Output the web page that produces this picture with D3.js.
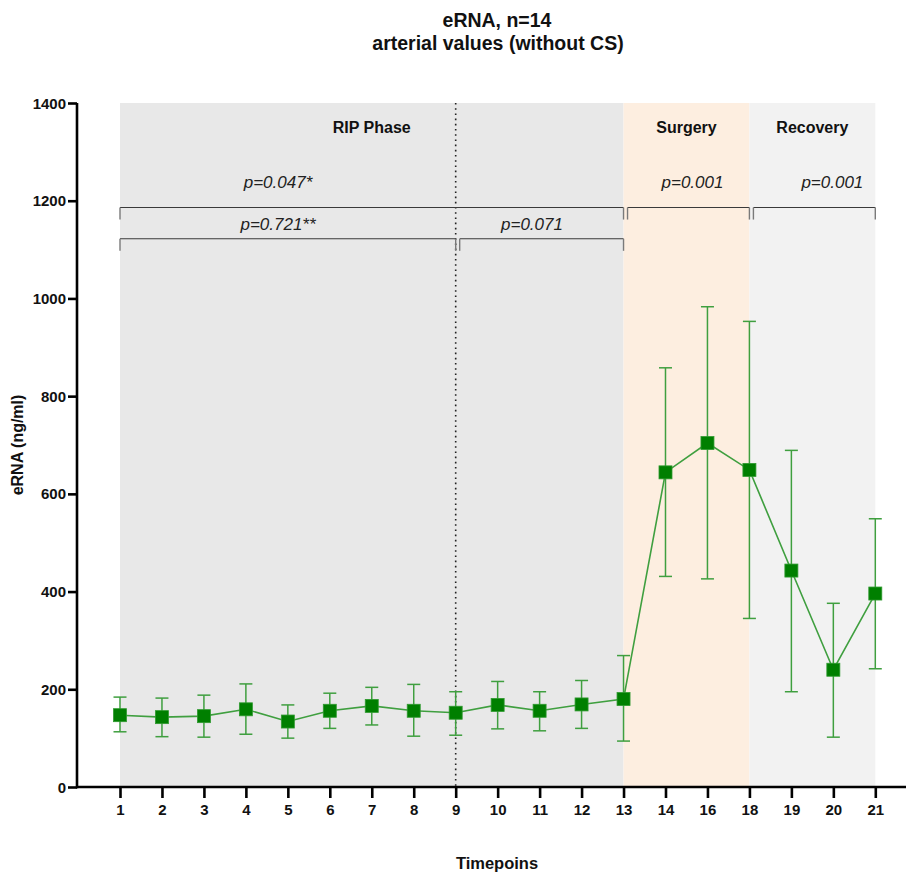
<!DOCTYPE html>
<html>
<head>
<meta charset="utf-8">
<script src="https://cdn.jsdelivr.net/npm/d3@7"></script>
<style>
  body { margin: 0; background: #fff; }
  svg { font-family: "Liberation Sans", Arial, sans-serif; }
</style>
</head>
<body>
<div id="chart"></div>
<script>
// timepoints (x categories)
const timepoints = ['1', '2', '3', '4', '5', '6', '7', '8', '9', '10', '11', '12', '13', '14', '16', '18', '19', '20', '21'];
// mean eRNA (ng/ml)
const means = [147, 143, 145, 159, 134, 156, 166, 156, 152, 168, 156, 169, 180, 644, 704, 649, 443, 240, 396];
// error bar upper / lower ends
const upper = [184, 182, 188, 211, 168, 192, 204, 210, 195, 216, 195, 218, 269, 858, 983, 953, 689, 376, 549];
const lower = [113, 103, 102, 108, 100, 120, 127, 104, 106, 119, 115, 120, 94, 431, 426, 345, 195, 102, 242];
const yTicks = [0, 200, 400, 600, 800, 1000, 1200, 1400];

const phases = [
    { name: 'RIP Phase', from: '1', to: '13' },
    { name: 'Surgery', from: '13', to: '18' },
    { name: 'Recovery', from: '18', to: '21' }
];
const brackets = [
    { from: '1', to: '13', level: 0, label: 'p=0.047*' },
    { from: '13', to: '18', level: 0, label: 'p=0.001' },
    { from: '18', to: '21', level: 0, label: 'p=0.001' },
    { from: '1', to: '9', level: 1, label: 'p=0.721**' },
    { from: '9', to: '13', level: 1, label: 'p=0.071' }
];

const width = 906;
const height = 872;
const phaseFill = { 'RIP Phase': '#e8e8e8', 'Surgery': '#fdeee0', 'Recovery': '#f2f2f2' };
const green = '#007f00';
const lightGreen = '#3f9f3f';
const font = '"Liberation Sans", Arial, sans-serif';

const svg = d3.select('#chart')
    .append('svg')
    .attr('width', width)
    .attr('height', height);

const x = d3.scalePoint().domain(timepoints).range([120, 875.3]);
const y = d3.scaleLinear().domain([0, 1400]).range([787, 103]);

// phase backgrounds
svg.selectAll('.phase')
    .data(phases)
    .enter().append('rect')
    .attr('x', d => x(d.from))
    .attr('y', y(1400))
    .attr('width', d => x(d.to) - x(d.from))
    .attr('height', y(0) - y(1400))
    .attr('fill', d => phaseFill[d.name]);

svg.selectAll('.phase-label')
    .data(phases)
    .enter().append('text')
    .attr('x', d => (x(d.from) + x(d.to)) / 2)
    .attr('y', y(1400) + 30)
    .attr('text-anchor', 'middle')
    .attr('font-size', 16)
    .attr('font-weight', 'bold')
    .attr('fill', '#111')
    .text(d => d.name);

// dotted divider at timepoint 9
svg.append('line')
    .attr('x1', x('9')).attr('x2', x('9'))
    .attr('y1', y(1400)).attr('y2', y(0))
    .attr('stroke', '#222')
    .attr('stroke-width', 1.6)
    .attr('stroke-dasharray', '1.6,3.6');

// significance brackets
const bracketY = [y(1186), y(1122)];
const labelGap = [20, 9];
const labelX = { 'p=0.047*': 278, 'p=0.721**': 278, 'p=0.071': 532 };
const bg = svg.append('g');
brackets.forEach(b => {
    const yy = bracketY[b.level];
    let x0 = x(b.from), x1 = x(b.to);
    if (b.from !== '1') x0 += 4;
    const g = bg.append('g');
    g.append('line')
        .attr('x1', x0).attr('x2', x1)
        .attr('y1', yy).attr('y2', yy)
        .attr('stroke', '#3a3a3a').attr('stroke-width', 1.1);
    [x0, x1].forEach(xx => {
        g.append('line')
            .attr('x1', xx).attr('x2', xx)
            .attr('y1', yy).attr('y2', yy + 12)
            .attr('stroke', '#7a7a7a').attr('stroke-width', 1.4);
    });
    const lx = labelX[b.label] !== undefined ? labelX[b.label] : (x0 + x1) / 2 + (b.from === '18' ? 18 : 4);
    g.append('text')
        .attr('x', lx)
        .attr('y', yy - labelGap[b.level])
        .attr('text-anchor', 'middle')
        .attr('font-size', 17)
        .attr('font-style', 'italic')
        .attr('fill', '#222')
        .text(b.label);
});

// axes
const yAxis = svg.append('g')
    .attr('transform', 'translate(77,0)')
    .call(d3.axisLeft(y).tickValues(yTicks).tickFormat(d3.format('d')).tickSize(9).tickSizeOuter(0).tickPadding(2));
yAxis.select('.domain').remove();
yAxis.append('line')
    .attr('x1', 0).attr('x2', 0)
    .attr('y1', y(1400)).attr('y2', y(0) + 1.2)
    .attr('stroke', '#000').attr('stroke-width', 2.6);
yAxis.selectAll('.tick line').attr('stroke', '#000').attr('stroke-width', 2.6);
yAxis.selectAll('.tick text')
    .attr('font-size', 15).attr('font-weight', 'bold').attr('fill', '#111')
    .attr('font-family', font)
    .attr('dy', '0.34em');

const xAxis = svg.append('g')
    .attr('transform', `translate(0,${y(0)})`)
    .call(d3.axisBottom(x).tickSize(11).tickPadding(6));
xAxis.select('.domain').remove();
xAxis.append('line')
    .attr('x1', 76).attr('x2', width)
    .attr('y1', 0).attr('y2', 0)
    .attr('stroke', '#000').attr('stroke-width', 2.6);
xAxis.selectAll('.tick line').attr('stroke', '#000').attr('stroke-width', 2.6);
xAxis.selectAll('.tick text')
    .attr('font-size', 15).attr('font-weight', 'bold').attr('fill', '#111')
    .attr('font-family', font);

// data
const points = timepoints.map((t, i) => ({ t, mean: means[i], hi: upper[i], lo: lower[i] }));

const errs = svg.append('g').selectAll('.err')
    .data(points)
    .enter().append('g')
    .attr('stroke', lightGreen)
    .attr('stroke-width', 1.5);
errs.append('line')
    .attr('x1', d => x(d.t)).attr('x2', d => x(d.t))
    .attr('y1', d => y(d.hi)).attr('y2', d => y(d.lo));
errs.append('line')
    .attr('x1', d => x(d.t) - 6.5).attr('x2', d => x(d.t) + 6.5)
    .attr('y1', d => y(d.hi)).attr('y2', d => y(d.hi));
errs.append('line')
    .attr('x1', d => x(d.t) - 6.5).attr('x2', d => x(d.t) + 6.5)
    .attr('y1', d => y(d.lo)).attr('y2', d => y(d.lo));

svg.append('path')
    .datum(points)
    .attr('fill', 'none')
    .attr('stroke', lightGreen)
    .attr('stroke-width', 1.6)
    .attr('d', d3.line().x(d => x(d.t)).y(d => y(d.mean)));

svg.append('g').selectAll('.marker')
    .data(points)
    .enter().append('rect')
    .attr('x', d => x(d.t) - 6.5)
    .attr('y', d => y(d.mean) - 6.5)
    .attr('width', 13)
    .attr('height', 13)
    .attr('fill', green)
    .attr('stroke', '#2f9a2f')
    .attr('stroke-width', 0.8);

// titles
svg.append('text')
    .attr('x', 497).attr('y', 27)
    .attr('text-anchor', 'middle')
    .attr('font-size', 19.5).attr('font-weight', 'bold').attr('fill', '#111')
    .text('eRNA, n=14');
svg.append('text')
    .attr('x', 498).attr('y', 50)
    .attr('text-anchor', 'middle')
    .attr('font-size', 19.5).attr('font-weight', 'bold').attr('fill', '#111')
    .text('arterial values (without CS)');

svg.append('text')
    .attr('transform', `translate(23,${(y(0) + y(1400)) / 2}) rotate(-90)`)
    .attr('text-anchor', 'middle')
    .attr('font-size', 16).attr('font-weight', 'bold').attr('fill', '#111')
    .text('eRNA (ng/ml)');

svg.append('text')
    .attr('x', 497).attr('y', 869)
    .attr('text-anchor', 'middle')
    .attr('font-size', 16.5).attr('font-weight', 'bold').attr('fill', '#111')
    .text('Timepoins');
</script>
</body>
</html>
